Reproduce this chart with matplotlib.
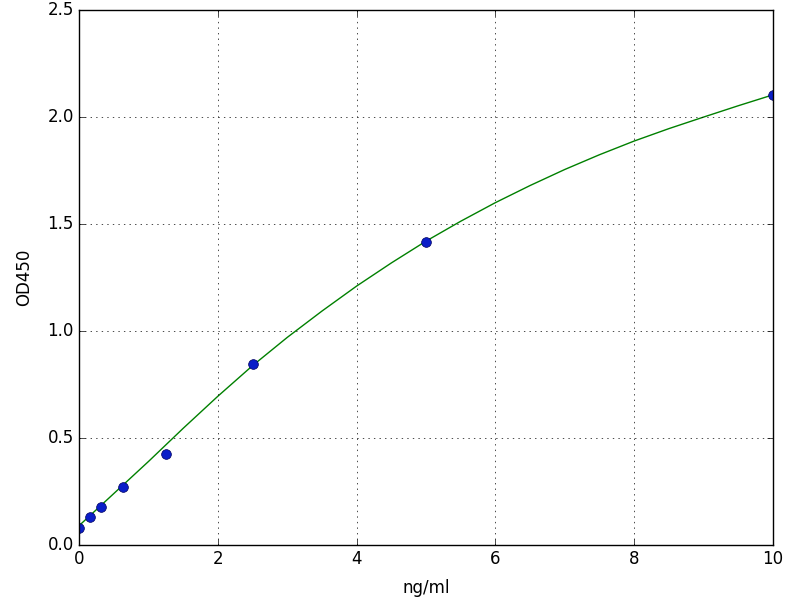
import matplotlib
matplotlib.use("Agg")
import matplotlib.pyplot as plt

plt.style.use("classic")

# standards (ng/ml) and measured OD450
conc = [0, 0.156, 0.3125, 0.625, 1.25, 2.5, 5, 10]
od = [0.077, 0.132, 0.178, 0.271, 0.425, 0.847, 1.416, 2.104]

# fitted curve
curve_x = [0, 0.5, 1, 1.5, 2, 2.5, 3, 3.5, 4, 4.5, 5, 5.5, 6, 6.5, 7, 7.5, 8, 8.5, 9, 9.5, 10]
curve_y = [0.09, 0.24, 0.39, 0.545, 0.695, 0.838, 0.97, 1.093, 1.21, 1.318, 1.42, 1.513,
           1.60, 1.68, 1.755, 1.824, 1.888, 1.946, 2.0, 2.053, 2.104]

fig = plt.figure(figsize=(8, 6), dpi=100, facecolor="white")
ax = fig.add_axes([0.099, 0.092, 0.867, 0.891])

ax.plot(curve_x, curve_y, "g-", linewidth=1)
ax.plot(conc, od, "o", color="#0a1ec8", markeredgecolor="#000060", markersize=7)

ax.set_xlim(0, 10)
ax.set_ylim(0, 2.5)
ax.grid(True)
ax.set_xlabel("ng/ml", labelpad=8)
ax.set_ylabel("OD450", labelpad=10)

fig.savefig("out.png", dpi=100, facecolor="white")
